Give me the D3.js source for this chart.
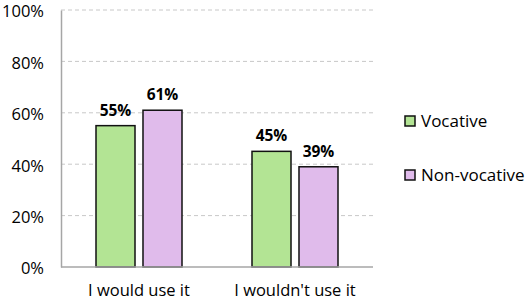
<!DOCTYPE html>
<html>
<head>
<meta charset="utf-8">
<script src="https://cdn.jsdelivr.net/npm/d3@7"></script>
<style>
  body { margin: 0; background: #fff; }
  text { font-family: "Open Sans", sans-serif; fill: #000; }
</style>
</head>
<body>
<div id="chart"></div>
<script>
const categories = ["I would use it", "I wouldn't use it"];
const series = ["Vocative", "Non-vocative"];
const vocative = [0.55, 0.45];
const nonVocative = [0.61, 0.39];
const yTicks = [0, 0.2, 0.4, 0.6, 0.8, 1.0];
const colors = ["#b3e494", "#e0bbeb"];

const width = 526, height = 301;
const margin = { top: 10, right: 153, bottom: 34, left: 61 };
const chartWidth = width - margin.left - margin.right;
const chartHeight = height - margin.top - margin.bottom;

const rows = categories.map((c, i) => ({ cat: c, vals: [vocative[i], nonVocative[i]] }));

const svg = d3.select('#chart').append('svg')
    .attr('width', width)
    .attr('height', height);

const g = svg.append('g')
    .attr('transform', `translate(${margin.left},${margin.top})`);

// Scales
const x0 = d3.scaleBand()
    .domain(categories)
    .range([0, chartWidth]);

const x1 = d3.scaleBand()
    .domain(series)
    .range([35, x0.bandwidth() - 35])
    .paddingInner(0.17);

const y = d3.scaleLinear()
    .domain([0, 1])
    .range([chartHeight, 0]);

// Gridlines
g.selectAll('.grid')
    .data(yTicks.filter(d => d > 0))
    .join('line')
    .attr('x1', 0)
    .attr('x2', chartWidth)
    .attr('y1', d => y(d))
    .attr('y2', d => y(d))
    .attr('stroke', '#c8c8c8')
    .attr('stroke-width', 1)
    .attr('stroke-dasharray', '4,3');

// Y axis
const yAxis = d3.axisLeft(y)
    .tickValues(yTicks)
    .tickFormat(d3.format('.0%'))
    .tickSize(0)
    .tickPadding(17);

g.append('g')
    .call(yAxis)
    .call(s => s.select('.domain').attr('stroke', '#a6a6a6').attr('stroke-width', 1.5))
    .call(s => s.selectAll('text')
        .style('font-size', '16.5px')
        .attr('dy', '0.42em')
        .attr('fill', '#000'));

// Bars
const groups = g.selectAll('.group')
    .data(rows)
    .join('g')
    .attr('transform', d => `translate(${x0(d.cat)},0)`);

groups.selectAll('rect')
    .data(d => d.vals.map((v, i) => ({ key: series[i], v, i })))
    .join('rect')
    .attr('x', d => x1(d.key))
    .attr('y', d => y(d.v))
    .attr('width', x1.bandwidth())
    .attr('height', d => chartHeight - y(d.v))
    .attr('fill', d => colors[d.i])
    .attr('stroke', '#111')
    .attr('stroke-width', 1.5);

groups.selectAll('.lbl')
    .data(d => d.vals.map((v, i) => ({ key: series[i], v, i })))
    .join('text')
    .attr('x', d => x1(d.key) + x1.bandwidth() / 2)
    .attr('y', d => y(d.v) - 10)
    .attr('text-anchor', 'middle')
    .style('font-size', '15.5px')
    .style('font-weight', 'bold')
    .text(d => d3.format('.0%')(d.v));

// X axis
g.append('line')
    .attr('x1', 0)
    .attr('x2', chartWidth)
    .attr('y1', chartHeight)
    .attr('y2', chartHeight)
    .attr('stroke', '#a6a6a6')
    .attr('stroke-width', 1.5);

g.selectAll('.xlbl')
    .data(categories)
    .join('text')
    .attr('x', d => x0(d) + x0.bandwidth() / 2)
    .attr('y', chartHeight + 29)
    .attr('text-anchor', 'middle')
    .style('font-size', '16.5px')
    .text(d => d);

// Legend
const legend = svg.append('g')
    .attr('transform', 'translate(405,116)');

const items = legend.selectAll('g')
    .data(series)
    .join('g')
    .attr('transform', (d, i) => `translate(0,${i * 54})`);

items.append('rect')
    .attr('width', 10)
    .attr('height', 10)
    .attr('fill', (d, i) => colors[i])
    .attr('stroke', '#111')
    .attr('stroke-width', 1.5);

items.append('text')
    .attr('x', 16)
    .attr('y', 5)
    .attr('dy', '0.35em')
    .style('font-size', '17px')
    .text(d => d);
</script>
</body>
</html>
